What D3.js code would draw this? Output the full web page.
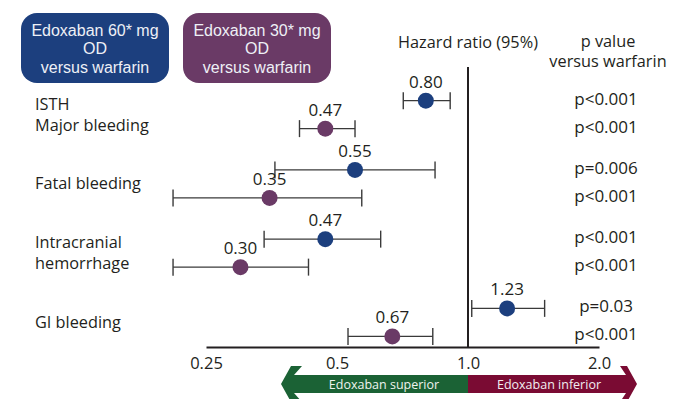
<!DOCTYPE html>
<html>
<head>
<meta charset="utf-8">
<script src="https://cdn.jsdelivr.net/npm/d3@7"></script>
<style>
  html, body { margin: 0; padding: 0; background: #fff; }
  svg { display: block; font-family: "Open Sans", "Noto Sans", sans-serif; }
</style>
</head>
<body>
<svg id="chart" width="680" height="399"></svg>
<script>
// Outcome groups and the two dose arms
const outcomes = ["ISTH\nMajor bleeding", "Fatal bleeding", "Intracranial\nhemorrhage", "GI bleeding"];
const arms = ["Edoxaban 60* mg\nOD\nversus warfarin", "Edoxaban 30* mg\nOD\nversus warfarin"];

// Hazard ratios with 95% CI, per outcome, for each arm
const hr60 = [0.80, 0.55, 0.47, 1.23];
const lo60 = [0.71, 0.36, 0.34, 1.02];
const hi60 = [0.91, 0.84, 0.63, 1.50];
const p60 = ["p<0.001", "p=0.006", "p<0.001", "p=0.03"];

const hr30 = [0.47, 0.35, 0.30, 0.67];
const lo30 = [0.41, 0.21, 0.21, 0.53];
const hi30 = [0.55, 0.57, 0.43, 0.83];
const p30 = ["p<0.001", "p<0.001", "p<0.001", "p<0.001"];

const tickValues = [0.25, 0.5, 1.0, 2.0];
const tickLabels = ["0.25", "0.5", "1.0", "2.0"];

const armColors = ["#1c3f7e", "#6a3a66"];
const ink = "#231f20";

const rows = [];
outcomes.forEach((o, i) => {
  rows.push({ outcome: o, arm: arms[0], armIndex: 0, hr: hr60[i], lo: lo60[i], hi: hi60[i], p: p60[i] });
  rows.push({ outcome: o, arm: arms[1], armIndex: 1, hr: hr30[i], lo: lo30[i], hi: hi30[i], p: p30[i] });
});

const svg = d3.select("#chart");

const x = d3.scaleLog().base(2).domain([0.25, 2.0]).range([206, 599]);
const yGroup = d3.scaleBand().domain(outcomes).range([80, 357]);
const yInner = d3.scalePoint().domain(arms).range([-14, 14]);
const yRow = d => yGroup(d.outcome) + yGroup.bandwidth() / 2 + yInner(d.arm);
const axisY = 347;
const pX = 606;

// Arm legend boxes
const legend = svg.append("g");
arms.forEach((a, i) => {
  const g = legend.append("g").attr("transform", `translate(${21 + i * 162},13)`);
  g.append("rect").attr("width", 148).attr("height", 70).attr("rx", 16).attr("ry", 16)
    .attr("fill", armColors[i]);
  a.split("\n").forEach((line, j) => {
    g.append("text").attr("text-anchor", "middle").attr("fill", "#eef0f6")
      .attr("font-family", "'Liberation Sans', Arial, sans-serif")
      .attr("font-size", 16)
      .attr("x", 74).attr("y", 22.5 + j * 18.5).text(line);
  });
});

// Column headers
svg.append("text").attr("x", x(1)).attr("y", 47.5).attr("text-anchor", "middle")
  .attr("font-size", 16.3).attr("fill", ink).text("Hazard ratio (95%)");
const pHead = svg.append("text").attr("text-anchor", "middle").attr("font-size", 16.3).attr("fill", ink);
pHead.append("tspan").attr("x", pX + 2).attr("y", 46.5).text("p value");
pHead.append("tspan").attr("x", pX + 2).attr("y", 66.5).text("versus warfarin");

// Reference line at HR = 1
svg.append("line").attr("x1", x(1)).attr("x2", x(1)).attr("y1", 67).attr("y2", axisY)
  .attr("stroke", ink).attr("stroke-width", 2);

// Horizontal axis
const axis = d3.axisBottom(x).tickValues(tickValues)
  .tickFormat((d, i) => tickLabels[i]).tickSize(0).tickPadding(10);
const axG = svg.append("g").attr("transform", `translate(0,${axisY})`).call(axis);
axG.select(".domain").attr("stroke", ink).attr("stroke-width", 2);
axG.selectAll("text").attr("font-size", 16.5).attr("fill", ink)
  .attr("font-family", "'Open Sans', sans-serif");

// Outcome labels
outcomes.forEach(o => {
  const lines = o.split("\n");
  const cy = yGroup(o) + yGroup.bandwidth() / 2;
  const t = svg.append("text").attr("font-size", 16.3).attr("fill", ink);
  lines.forEach((line, j) => {
    t.append("tspan").attr("x", 35)
      .attr("y", cy + (j - (lines.length - 1) / 2) * 21 + 5.5).text(line);
  });
});

// Confidence intervals, point estimates and labels
const marks = svg.append("g").selectAll("g").data(rows).join("g");
marks.append("line")
  .attr("x1", d => x(d.lo)).attr("x2", d => x(d.hi))
  .attr("y1", yRow).attr("y2", yRow)
  .attr("stroke", "#3a3a3a").attr("stroke-width", 1.4);
["lo", "hi"].forEach(k => {
  marks.append("line")
    .attr("x1", d => x(d[k])).attr("x2", d => x(d[k]))
    .attr("y1", d => yRow(d) - 8.5).attr("y2", d => yRow(d) + 8.5)
    .attr("stroke", "#3a3a3a").attr("stroke-width", 1.4);
});
marks.append("circle")
  .attr("cx", d => x(d.hr)).attr("cy", yRow).attr("r", 8)
  .attr("fill", d => armColors[d.armIndex]);
marks.append("text")
  .attr("x", d => x(d.hr)).attr("y", d => yRow(d) - 13)
  .attr("text-anchor", "middle").attr("font-size", 17).attr("fill", ink)
  .text(d => d.hr.toFixed(2));

// p values
marks.append("text")
  .attr("x", pX).attr("y", d => yRow(d) + 4)
  .attr("text-anchor", "middle").attr("font-size", 17).attr("fill", ink)
  .text(d => d.p);

// Direction arrow below the axis
const arrowTop = 375, arrowBot = 393, arrowMid = (arrowTop + arrowBot) / 2;
const headH = 18;
const leftTip = x(0.25) + 75, rightTip = x(2.0) + 38;
const leftPath = d3.path();
leftPath.moveTo(leftTip, arrowMid);
leftPath.lineTo(leftTip + 10, arrowMid - headH);
leftPath.lineTo(leftTip + 21, arrowMid - headH);
leftPath.lineTo(leftTip + 13, arrowTop);
leftPath.lineTo(x(1), arrowTop);
leftPath.lineTo(x(1), arrowBot);
leftPath.lineTo(leftTip + 13, arrowBot);
leftPath.lineTo(leftTip + 21, arrowMid + headH);
leftPath.lineTo(leftTip + 10, arrowMid + headH);
leftPath.closePath();
svg.append("path").attr("d", leftPath.toString()).attr("fill", "#1b6235");

const rightPath = d3.path();
rightPath.moveTo(rightTip, arrowMid);
rightPath.lineTo(rightTip - 10, arrowMid - headH);
rightPath.lineTo(rightTip - 17, arrowMid - headH);
rightPath.lineTo(rightTip - 11, arrowTop);
rightPath.lineTo(x(1), arrowTop);
rightPath.lineTo(x(1), arrowBot);
rightPath.lineTo(rightTip - 11, arrowBot);
rightPath.lineTo(rightTip - 17, arrowMid + headH);
rightPath.lineTo(rightTip - 10, arrowMid + headH);
rightPath.closePath();
svg.append("path").attr("d", rightPath.toString()).attr("fill", "#7a0b33");

svg.append("text").attr("x", (leftTip + 13 + x(1)) / 2 + 3).attr("y", arrowMid + 4.5)
  .attr("text-anchor", "middle").attr("font-size", 12.5).attr("fill", "#eef3ee")
  .text("Edoxaban superior");
svg.append("text").attr("x", (rightTip - 11 + x(1)) / 2 + 2).attr("y", arrowMid + 4.5)
  .attr("text-anchor", "middle").attr("font-size", 12.5).attr("fill", "#f3eef0")
  .text("Edoxaban inferior");
</script>
</body>
</html>
